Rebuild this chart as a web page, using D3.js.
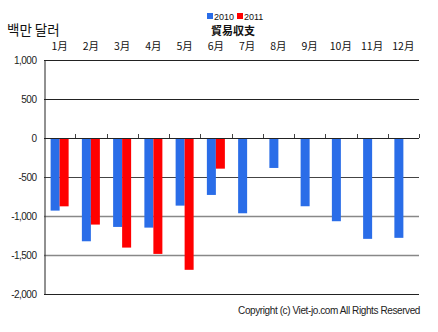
<!DOCTYPE html>
<html><head><meta charset="utf-8">
<script src="https://cdn.jsdelivr.net/npm/d3@7"></script>
<style>body{margin:0;background:#fff;}svg{display:block;}</style>
</head><body>
<svg id="c" width="438" height="332"></svg>
<script>
const months = ["1月","2月","3月","4月","5月","6月","7月","8月","9月","10月","11月","12月"];
const seriesNames = ["2010","2011"];
const values2010 = [-931,-1324,-1140,-1149,-867,-730,-965,-384,-875,-1067,-1293,-1280];
const values2011 = [-876,-1110,-1405,-1486,-1690,-393,null,null,null,null,null,null];
const yTicks = [1000,500,0,-500,-1000,-1500,-2000];
const colors = ["#2a6de8","#ff0000"];
const title = "貿易収支";
const unitLabel = "백만 달러";
const copyright = "Copyright (c) Viet-jo.com All Rights Reserved";

const svg = d3.select("#c");
const L = 44, R = 419, T = 60, B = 294;
const x = d3.scaleBand().domain(months).range([L, R]).paddingInner(0).paddingOuter(0);
const y = d3.scaleLinear().domain([-2000, 1000]).range([B, T]);
const barW = 9;
const font = "'Liberation Sans', Arial, sans-serif";
const cjk = "'Noto Sans CJK JP', 'Noto Sans CJK KR', sans-serif";

// gridlines
const gridStyle = {1000:["#222",1],500:["#222",1],"-500":["#444",1],"-1000":["#888",1.6],"-1500":["#888",1.6],"-2000":["#222",1]};
svg.append("g").selectAll("line").data(yTicks.filter(d=>d!==0)).join("line")
  .attr("x1", L).attr("x2", R)
  .attr("y1", d=>Math.round(y(d))+0.5).attr("y2", d=>Math.round(y(d))+0.5)
  .attr("stroke", d=>gridStyle[d][0]).attr("stroke-width", d=>gridStyle[d][1]);

// y axis
const yAxis = d3.axisLeft(y).tickValues(yTicks).tickSize(0).tickPadding(8)
  .tickFormat(d => (d<0?"-":"") + d3.format(",")(Math.abs(d)));
const ya = svg.append("g").attr("transform", `translate(${L+0.5},0)`).call(yAxis);
ya.select(".domain").attr("stroke","#222");
ya.selectAll("text").attr("font-family", font).attr("font-size", 10).attr("fill","#222").attr("letter-spacing","-0.5px");

// bars
const data = months.map((m,i)=>({m, vals:[values2010[i], values2011[i]]}));
const g = svg.append("g");
data.forEach(d=>{
  d.vals.forEach((v,j)=>{
    if (v==null) return;
    const cx = x(d.m) + x.bandwidth()/2;
    g.append("rect")
      .attr("x", cx - barW + j*barW)
      .attr("width", barW)
      .attr("y", y(0))
      .attr("height", y(v)-y(0))
      .attr("fill", colors[j]);
  });
});

// zero axis with upward ticks
svg.append("line").attr("x1",L).attr("x2",R).attr("y1",Math.round(y(0))+0.5).attr("y2",Math.round(y(0))+0.5).attr("stroke","#222");
svg.append("g").selectAll("line").data(months.map(m=>x(m)+x.bandwidth())).join("line")
  .attr("x1",d=>Math.round(d)+0.5).attr("x2",d=>Math.round(d)+0.5)
  .attr("y1",Math.round(y(0))).attr("y2",Math.round(y(0))-4).attr("stroke","#444");

// month labels on top
svg.append("g").selectAll("text").data(months).join("text")
  .attr("x", d=>x(d)+x.bandwidth()/2).attr("y", 50)
  .attr("text-anchor","middle").attr("font-family", cjk).attr("font-size", 10.5).attr("fill","#111")
  .text(d=>d);

// title
svg.append("text").attr("x", 233).attr("y", 35).attr("text-anchor","middle")
  .attr("font-family", cjk).attr("font-size", 11).attr("font-weight","bold").attr("fill","#111").text(title);

// legend
const leg = svg.append("g");
const legX = [207, 237];
seriesNames.forEach((s,i)=>{
  leg.append("rect").attr("x", legX[i]).attr("y", 13).attr("width",6).attr("height",6).attr("fill",colors[i]);
  leg.append("text").attr("x", legX[i]+7).attr("y", 19.5).attr("font-family", font).attr("font-size", 9).attr("fill","#111").text(s);
});

// unit label
svg.append("text").attr("x", 7).attr("y", 35).attr("font-family", cjk).attr("font-size", 13.5).attr("fill","#111").text(unitLabel);

// copyright
svg.append("text").attr("x", 420).attr("y", 314).attr("text-anchor","end")
  .attr("font-family", font).attr("font-size", 10).attr("fill","#222").attr("letter-spacing","-0.4px").text(copyright);
</script>
</body></html>
